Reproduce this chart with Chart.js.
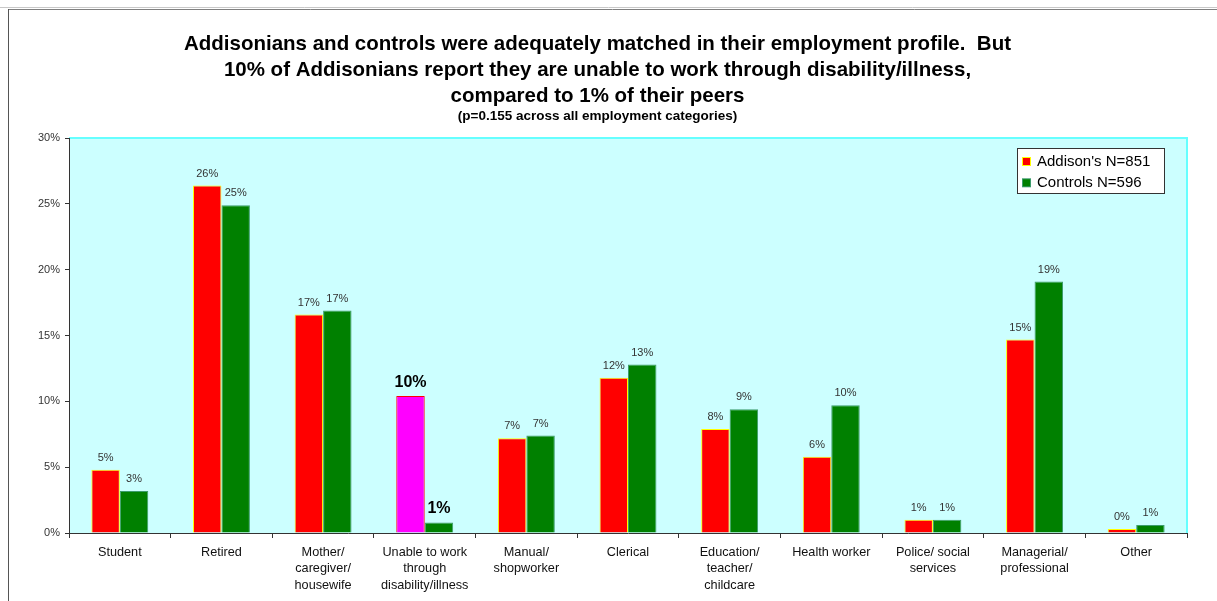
<!DOCTYPE html>
<html>
<head>
<meta charset="utf-8">
<script src="https://cdn.jsdelivr.net/npm/chart.js@4"></script>
<style>
  html, body { margin: 0; padding: 0; background: #ffffff; }
  #wrap { position: relative; width: 1217px; height: 601px; }
</style>
</head>
<body>
<div id="wrap"><canvas id="c" width="1217" height="601"></canvas></div>
<script>
const categories = [
  ['Student'],
  ['Retired'],
  ['Mother/', 'caregiver/', 'housewife'],
  ['Unable to work', 'through', 'disability/illness'],
  ['Manual/', 'shopworker'],
  ['Clerical'],
  ['Education/', 'teacher/', 'childcare'],
  ['Health worker'],
  ['Police/ social', 'services'],
  ['Managerial/', 'professional'],
  ['Other']
];
const addisonValues  = [4.8, 26.4, 16.6, 10.4, 7.2, 11.8, 7.9, 5.8, 1.0, 14.7, 0.3];
const controlValues  = [3.2, 24.9, 16.9, 0.8, 7.4, 12.8, 9.4, 9.7, 1.0, 19.1, 0.6];
const seriesLabels   = ["Addison's N=851", 'Controls N=596'];
const yTicks         = [0, 5, 10, 15, 20, 25, 30];
const titleLines = [
  'Addisonians and controls were adequately matched in their employment profile.  But',
  '10% of Addisonians report they are unable to work through disability/illness,',
  'compared to 1% of their peers'
];
const subtitleText = '(p=0.155 across all employment categories)';
const highlightIndex = 3;

const FONT = '"Liberation Sans", Arial, Helvetica, sans-serif';

const addisonBg = categories.map((_, i) => i === highlightIndex ? '#ff00ff' : '#ff0000');
const addisonBorder = categories.map((_, i) => i === highlightIndex ? '#ff0000' : '#ffff00');

const framePlugin = {
  id: 'frame',
  beforeDraw(chart) {
    const ctx = chart.ctx;
    const a = chart.chartArea;
    ctx.save();
    ctx.strokeStyle = '#c8c8c8';
    ctx.lineWidth = 1;
    ctx.beginPath(); ctx.moveTo(0, 7.5); ctx.lineTo(1217, 7.5); ctx.stroke();
    ctx.strokeStyle = '#808080';
    ctx.beginPath(); ctx.moveTo(8, 9.5); ctx.lineTo(1217, 9.5); ctx.stroke();
    ctx.strokeStyle = '#555555';
    ctx.beginPath(); ctx.moveTo(8.5, 9); ctx.lineTo(8.5, 601); ctx.stroke();
    ctx.fillStyle = '#ccffff';
    ctx.fillRect(a.left, a.top, a.right - a.left, a.bottom - a.top);
    ctx.strokeStyle = '#66ffff';
    ctx.lineWidth = 2;
    ctx.beginPath();
    ctx.moveTo(a.left, a.top);
    ctx.lineTo(a.right, a.top);
    ctx.lineTo(a.right, a.bottom);
    ctx.stroke();
    ctx.restore();
  }
};

const labelPlugin = {
  id: 'barLabels',
  afterDatasetsDraw(chart) {
    const ctx = chart.ctx;
    ctx.save();
    ctx.textAlign = 'center';
    ctx.textBaseline = 'middle';
    chart.data.datasets.forEach((ds, di) => {
      const meta = chart.getDatasetMeta(di);
      meta.data.forEach((bar, i) => {
        const txt = Math.round(ds.data[i]) + '%';
        if (i === highlightIndex) {
          ctx.font = 'bold 16px ' + FONT;
          ctx.fillStyle = '#000000';
          ctx.fillText(txt, bar.x, bar.y - 14);
        } else {
          ctx.font = '11px ' + FONT;
          ctx.fillStyle = '#333333';
          ctx.fillText(txt, bar.x, bar.y - 12);
        }
      });
    });
    ctx.restore();
  }
};

const legendPlugin = {
  id: 'boxLegend',
  afterDraw(chart) {
    const ctx = chart.ctx;
    const x0 = 1017, y0 = 148, w = 148, h = 46;
    ctx.save();
    ctx.fillStyle = '#ffffff';
    ctx.fillRect(x0, y0, w, h);
    ctx.strokeStyle = '#333333';
    ctx.lineWidth = 1;
    ctx.strokeRect(x0 + 0.5, y0 + 0.5, w - 1, h - 1);
    ctx.font = '15px ' + FONT;
    ctx.textBaseline = 'middle';
    ctx.textAlign = 'left';
    chart.data.datasets.forEach((ds, di) => {
      const cy = y0 + 13.5 + di * 21.3;
      const fill = Array.isArray(ds.backgroundColor) ? ds.backgroundColor[0] : ds.backgroundColor;
      const border = Array.isArray(ds.borderColor) ? ds.borderColor[0] : ds.borderColor;
      ctx.fillStyle = border;
      ctx.fillRect(x0 + 5, cy - 4.5, 9, 9);
      ctx.fillStyle = fill;
      ctx.fillRect(x0 + 6, cy - 3.5, 7, 7);
      ctx.fillStyle = '#000000';
      ctx.fillText(ds.label, x0 + 20, cy + 0.5);
    });
    ctx.restore();
  }
};

new Chart(document.getElementById('c'), {
  type: 'bar',
  data: {
    labels: categories,
    datasets: [
      {
        label: seriesLabels[0],
        data: addisonValues,
        backgroundColor: addisonBg,
        borderColor: addisonBorder,
        borderWidth: 1,
        barPercentage: 1.0,
        categoryPercentage: 0.56
      },
      {
        label: seriesLabels[1],
        data: controlValues,
        backgroundColor: '#008000',
        borderColor: '#3c9c6c',
        borderWidth: 1,
        barPercentage: 1.0,
        categoryPercentage: 0.56
      }
    ]
  },
  options: {
    responsive: false,
    animation: false,
    devicePixelRatio: 1,
    layout: { padding: { left: 8, right: 30, top: 0, bottom: 0 } },
    plugins: {
      legend: { display: false },
      tooltip: { enabled: false },
      title: {
        display: true,
        text: titleLines,
        color: '#000000',
        font: { family: FONT, size: 20.5, weight: 'bold', lineHeight: 1.27 },
        padding: { top: 31, bottom: 0 }
      },
      subtitle: {
        display: true,
        text: subtitleText,
        color: '#000000',
        font: { family: FONT, size: 13.5, weight: 'bold', lineHeight: 1.0 },
        padding: { top: 0, bottom: 15.5 }
      }
    },
    scales: {
      x: {
        grid: { display: true, offset: true, drawOnChartArea: false, drawTicks: true, tickLength: 5, color: '#333333' },
        border: { display: true, color: '#333333', width: 1 },
        ticks: {
          color: '#111111',
          font: { family: FONT, size: 12.7, lineHeight: 1.3 },
          padding: 6,
          maxRotation: 0,
          autoSkip: false
        },
        afterFit(scale) { scale.height = 68; }
      },
      y: {
        min: 0,
        max: 30,
        afterBuildTicks(scale) { scale.ticks = yTicks.map(v => ({ value: v })); },
        grid: { display: true, drawOnChartArea: false, drawTicks: true, tickLength: 4, color: '#333333' },
        border: { display: true, color: '#333333', width: 1 },
        ticks: {
          color: '#333333',
          font: { family: FONT, size: 11 },
          padding: 5,
          callback: v => v + '%'
        },
        afterFit(scale) { scale.width = 61; }
      }
    }
  },
  plugins: [framePlugin, labelPlugin, legendPlugin]
});
</script>
</body>
</html>
